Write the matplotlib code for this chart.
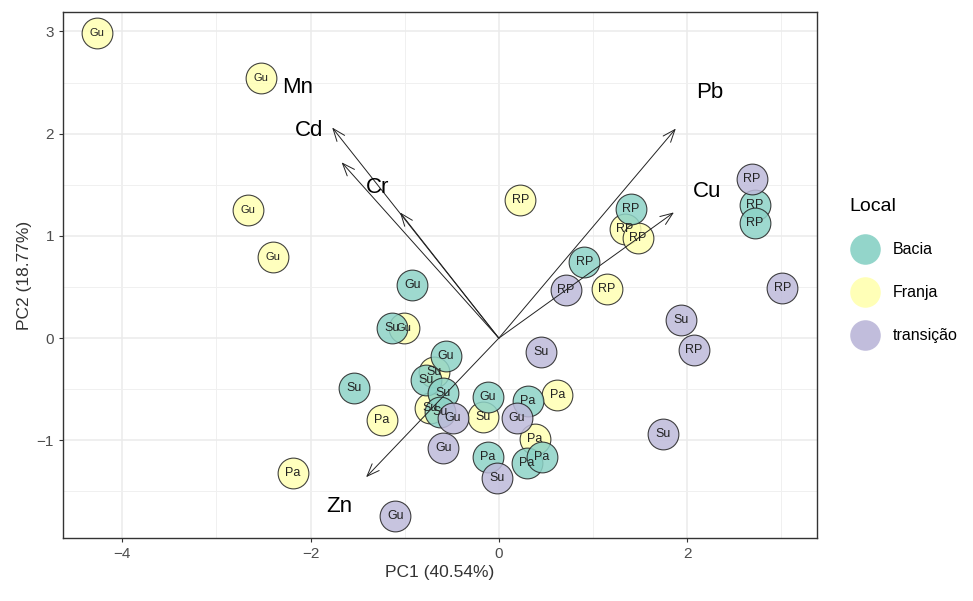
import matplotlib.pyplot as plt
from matplotlib.lines import Line2D

plt.rcParams['font.family'] = ['Liberation Sans', 'DejaVu Sans']

# scores (PC1, PC2), group and site label
pc1 = [-4.27, -2.53, -2.66, -2.40, 0.23, -2.19, -1.24, -1.01, -0.69, -0.73, -0.17, 0.62, 0.38, 1.34, 1.48, 1.15,
       -0.92, -1.13, -1.54, -0.56, -0.77, -0.59, -0.62, -0.12, 0.31, -0.12, 0.30, 0.46, 1.40, 0.91, 2.72, 2.72,
       -1.10, -0.59, -0.49, 0.45, 0.19, -0.02, 0.71, 2.69, 3.01, 1.94, 2.07, 1.74]
pc2 = [2.98, 2.54, 1.25, 0.79, 1.35, -1.32, -0.80, 0.10, -0.33, -0.68, -0.77, -0.56, -0.99, 1.07, 0.98, 0.48,
       0.52, 0.10, -0.49, -0.17, -0.41, -0.54, -0.72, -0.58, -0.61, -1.16, -1.22, -1.16, 1.26, 0.74, 1.30, 1.13,
       -1.74, -1.07, -0.78, -0.14, -0.78, -1.37, 0.47, 1.56, 0.49, 0.18, -0.12, -0.94]
local = ["Franja"] * 16 + ["Bacia"] * 16 + ["transição"] * 12
site = ["Gu", "Gu", "Gu", "Gu", "RP", "Pa", "Pa", "Gu", "Su", "Su", "Su", "Pa", "Pa", "RP", "RP", "RP",
        "Gu", "Su", "Su", "Gu", "Su", "Su", "Su", "Gu", "Pa", "Pa", "Pa", "Pa", "RP", "RP", "RP", "RP",
        "Gu", "Gu", "Gu", "Su", "Gu", "Su", "RP", "RP", "RP", "Su", "RP", "Su"]

# loadings (arrow tips) and label positions
variables = ["Pb", "Cu", "Cd", "Cr", "Mn", "Zn"]
arrow_x = [1.88, 1.86, -1.77, -1.67, -1.05, -1.41]
arrow_y = [2.05, 1.23, 2.06, 1.72, 1.23, -1.36]
label_x = [2.24, 2.21, -2.02, -1.29, -2.14, -1.69]
label_y = [2.40, 1.43, 2.03, 1.47, 2.45, -1.65]

groups = ["Bacia", "Franja", "transição"]
colors = {"Bacia": "#8DD3C7", "Franja": "#FFFFB3", "transição": "#BEBADA"}

fig = plt.figure(figsize=(9.73, 6.01), dpi=100)
ax = fig.add_axes([0.0647, 0.1048, 0.775, 0.8752])

ax.set_xlim(-4.63, 3.38)
ax.set_ylim(-1.955, 3.19)
ax.set_xticks([-4, -2, 0, 2])
ax.set_yticks([-1, 0, 1, 2, 3])
ax.set_xticks([-3, -1, 1, 3], minor=True)
ax.set_yticks([-1.5, -0.5, 0.5, 1.5, 2.5], minor=True)
ax.grid(which="major", color="#EBEBEB", lw=1.1, zorder=0)
ax.grid(which="minor", color="#F0F0F0", lw=0.7, zorder=0)
ax.set_axisbelow(True)
ax.tick_params(which="minor", length=0)
ax.tick_params(which="major", length=3, color="#333333", labelsize=11, labelcolor="#4D4D4D")
for s in ax.spines.values():
    s.set_color("#333333")
    s.set_linewidth(1.0)

for i in range(len(pc1)):
    ax.scatter(pc1[i], pc2[i], s=490, color=colors[local[i]], alpha=0.85,
               edgecolors="#222222", linewidths=0.8, zorder=3 + i * 0.01)
for i in range(len(pc1)):
    fs = 9 if site[i] != "Gu" or local[i] != "Franja" else 8
    ax.text(pc1[i], pc2[i], site[i], ha="center", va="center", fontsize=fs,
            color="#222222", zorder=5)

for i in range(len(variables)):
    ax.annotate("", xy=(arrow_x[i], arrow_y[i]), xytext=(0, 0),
                arrowprops=dict(arrowstyle="->,head_length=0.9,head_width=0.35",
                                color="#222222", lw=0.7, shrinkA=0, shrinkB=0),
                zorder=6)
    ax.text(label_x[i], label_y[i], variables[i], ha="center", va="center",
            fontsize=16, color="black", zorder=7)

ax.set_xlabel("PC1 (40.54%)", fontsize=12.5, color="#333333", labelpad=3)
ax.set_ylabel("PC2 (18.77%)", fontsize=12.5, color="#333333", labelpad=3)

handles = [Line2D([], [], marker="o", ls="", markersize=22, markerfacecolor=colors[g],
                  markeredgewidth=0, alpha=0.95) for g in groups]
fig.legend(handles, groups, title="Local", loc="upper left",
           bbox_to_anchor=(0.866, 0.682), frameon=False, fontsize=11.5,
           title_fontsize=14, labelspacing=1.75, handletextpad=0.75,
           alignment="left", borderaxespad=0)

fig.savefig("out.png", dpi=100)
